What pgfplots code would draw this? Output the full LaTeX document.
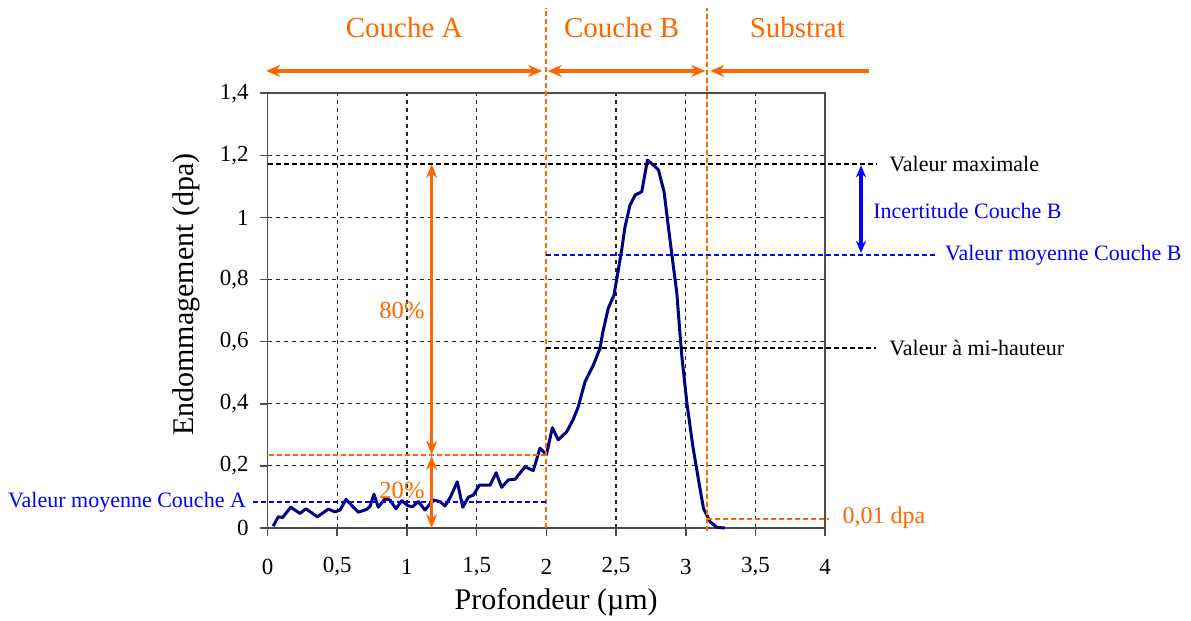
\documentclass[border=0pt]{standalone}
\usepackage{fontspec}
\setmainfont{Liberation Serif}
\usepackage{pgfplots}
\pgfplotsset{compat=1.18}
\usetikzlibrary{arrows.meta}
\definecolor{orng}{HTML}{FF6600}
\definecolor{navy}{HTML}{000080}
\definecolor{blu}{HTML}{0000FF}
\begin{document}
\begin{tikzpicture}
\begin{axis}[
  at={(0,0)}, anchor=origin,
  scale only axis, width=278.8pt, height=217.35pt,
  xmin=0, xmax=4, ymin=0, ymax=1.4,
  xtick={0,0.5,...,4}, ytick={0,0.2,...,1.4},
  /pgf/number format/use comma,
  /pgf/number format/assume math mode=true,
  tick label style={font=\fontsize{11.5}{13}\selectfont},
  tick align=outside, tick pos=left, major tick length=4pt,
  axis line style={black!70, line width=0.8pt},
  tick style={black!70, line width=0.8pt},
  grid=major,
  major grid style={black!85, line width=0.6pt, dash pattern=on 2pt off 2pt},
  xticklabel style={anchor=center, yshift=-15.5pt},
  yticklabel style={anchor=east, xshift=-2pt},
  xlabel={Profondeur (µm)},
  ylabel={Endommagement (dpa)},
  label style={font=\fontsize{15}{18}\selectfont},
  xlabel style={at={(axis description cs:0.5175,-0.17)}, anchor=center},
  ylabel style={at={(axis description cs:-0.145,0.537)}, anchor=center},
  clip=false,
]
\addplot[navy, line width=1.5pt, line join=round] coordinates {
(0.04,0.006) (0.077,0.036) (0.108,0.034) (0.166,0.067) (0.232,0.047)
(0.275,0.062) (0.357,0.036) (0.436,0.061) (0.483,0.052) (0.52,0.058)
(0.562,0.092) (0.651,0.051) (0.711,0.060) (0.734,0.069) (0.763,0.109)
(0.794,0.067) (0.842,0.094) (0.878,0.090) (0.921,0.062) (0.962,0.088)
(1.009,0.071) (1.041,0.069) (1.081,0.085) (1.129,0.058) (1.189,0.090)
(1.237,0.085) (1.273,0.071) (1.313,0.101) (1.361,0.149) (1.40,0.067)
(1.44,0.099) (1.476,0.106) (1.519,0.138) (1.596,0.138) (1.639,0.178)
(1.679,0.131) (1.727,0.155) (1.775,0.157) (1.847,0.197) (1.906,0.185)
(1.954,0.257) (2.00,0.236) (2.043,0.323) (2.085,0.284) (2.146,0.310)
(2.193,0.350) (2.229,0.391) (2.277,0.471) (2.337,0.525) (2.385,0.579)
(2.403,0.627) (2.444,0.708) (2.485,0.750) (2.540,0.895) (2.564,0.970)
(2.60,1.040) (2.636,1.072) (2.684,1.083) (2.725,1.185) (2.768,1.169)
(2.804,1.153) (2.844,1.083) (2.875,0.970) (2.911,0.842) (2.936,0.756)
(2.96,0.616) (2.972,0.552) (3.008,0.402) (3.051,0.262) (3.091,0.155)
(3.127,0.063) (3.175,0.020) (3.223,0.002) (3.28,0.0)
};
% orange boundaries
\draw[orng, line width=1pt, dash pattern=on 2.5pt off 1.5pt] (2,0) -- (2,1.675);
\draw[orng, line width=1pt, dash pattern=on 2.5pt off 1.5pt] (3.155,-0.01) -- (3.155,1.675);
% top arrows
\draw[orng, line width=1.6pt, {Stealth[length=7pt,width=6pt]}-{Stealth[length=7pt,width=6pt]}] (-0.01,1.472) -- (1.97,1.472);
\draw[orng, line width=1.6pt, {Stealth[length=7pt,width=6pt]}-{Stealth[length=7pt,width=6pt]}] (2.01,1.472) -- (3.14,1.472);
\draw[orng, line width=1.6pt, -{Stealth[length=7pt,width=6pt]}] (4.314,1.472) -- (3.175,1.472);
\node[orng, font=\fontsize{14.5}{17}\selectfont] at (0.98,1.613) {Couche A};
\node[orng, font=\fontsize{14.5}{17}\selectfont] at (2.54,1.613) {Couche B};
\node[orng, font=\fontsize{14.5}{17}\selectfont] at (3.80,1.613) {Substrat};
% max and half values
\draw[black, line width=1pt, dash pattern=on 2.5pt off 1.5pt] (0,1.172) -- (4.364,1.172);
\node[anchor=west, font=\fontsize{11}{13}\selectfont] at (4.41,1.172) {Valeur maximale};
\draw[black, line width=1pt, dash pattern=on 2.5pt off 1.5pt] (2,0.581) -- (4.364,0.581);
\node[anchor=west, font=\fontsize{11}{13}\selectfont] at (4.41,0.581) {Valeur à mi-hauteur};
% couche B mean and uncertainty
\draw[blu, line width=1pt, dash pattern=on 2.5pt off 1.5pt] (2,0.879) -- (4.788,0.879);
\node[blu, anchor=west, font=\fontsize{11}{13}\selectfont] at (4.81,0.879) {Valeur moyenne Couche B};
\draw[blu, line width=1.6pt, {Stealth[length=6pt,width=5pt]}-{Stealth[length=6pt,width=5pt]}] (4.257,1.168) -- (4.257,0.886);
\node[blu, anchor=west, font=\fontsize{11}{13}\selectfont] at (4.295,1.021) {Incertitude Couche B};
% couche A mean
\draw[blu, line width=1pt, dash pattern=on 2.5pt off 1.5pt] (-0.105,0.084) -- (2,0.084);
\node[blu, anchor=east, font=\fontsize{11}{13}\selectfont] at (-0.105,0.084) {Valeur moyenne Couche A};
% 20% / 80%
\draw[orng, line width=1pt, dash pattern=on 2.5pt off 1.5pt] (0.01,0.234) -- (2,0.234);
\draw[orng, line width=1.6pt, {Stealth[length=7pt,width=5.5pt]}-{Stealth[length=7pt,width=5.5pt]}] (1.177,1.172) -- (1.177,0.236);
\draw[orng, line width=1.6pt, {Stealth[length=7pt,width=5.5pt]}-{Stealth[length=7pt,width=5.5pt]}] (1.177,0.232) -- (1.177,0.0);
\node[orng, font=\fontsize{12.3}{14}\selectfont] at (0.964,0.699) {80\%};
\node[orng, font=\fontsize{12.3}{14}\selectfont] at (0.964,0.122) {20\%};
% substrate level
\draw[orng, line width=1pt, dash pattern=on 2.5pt off 1.5pt] (3.155,0.029) -- (4.03,0.029);
\node[orng, anchor=west, font=\fontsize{12}{14}\selectfont] at (4.075,0.032) {0,01 dpa};
\end{axis}
\pgfresetboundingbox
\path[use as bounding box] (-133.8pt,-46.5pt) rectangle (461.7pt,264pt);
\end{tikzpicture}
\end{document}
